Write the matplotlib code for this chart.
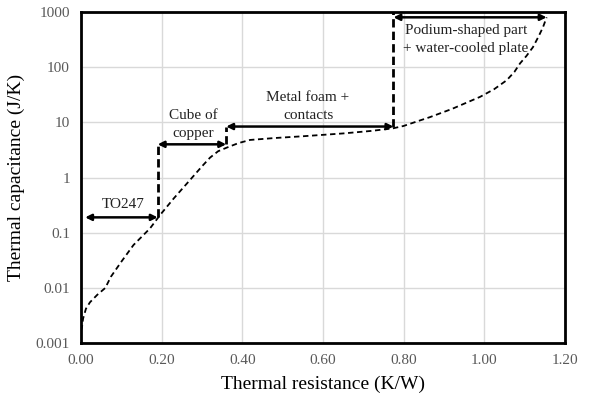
import matplotlib
matplotlib.use("Agg")
import matplotlib.pyplot as plt

plt.rcParams['font.family'] = ['Liberation Serif', 'DejaVu Serif']

# Cumulative structure function
r_curve = [0.0, 0.002, 0.005, 0.012, 0.022, 0.04, 0.06, 0.074, 0.10, 0.13, 0.171,
           0.196, 0.23, 0.27, 0.30, 0.32, 0.34, 0.362, 0.39, 0.419, 0.48, 0.55,
           0.65, 0.72, 0.774, 0.80, 0.83, 0.865, 0.92, 0.99, 1.025, 1.056, 1.075,
           1.089, 1.105, 1.121, 1.135, 1.146, 1.155]
c_curve = [0.0017, 0.0019, 0.0028, 0.0042, 0.0055, 0.0075, 0.010, 0.016, 0.03, 0.06, 0.12,
           0.21, 0.42, 0.9, 1.6, 2.3, 3.0, 3.5, 4.2, 4.8, 5.2, 5.6,
           6.3, 7.0, 7.8, 8.6, 10.2, 12.4, 17.5, 29, 40, 58, 82,
           117, 160, 230, 360, 530, 800]

# Steps marking each layer (thick dashed verticals)
r_steps = [0.19, 0.19, 0.36, 0.36, 0.775, 0.775]
c_steps = [0.19, 4.0, 4.0, 8.4, 8.4, 1000]

# Layer annotations: start, end, level, label, label position
arrow_start = [0.01, 0.19, 0.36, 0.775]
arrow_end = [0.19, 0.36, 0.775, 1.155]
arrow_level = [0.19, 4.0, 8.4, 800]
labels = ["TO247", "Cube of\ncopper", "Metal foam +\ncontacts",
          "Podium-shaped part\n+ water-cooled plate"]
label_x = [0.104, 0.278, 0.563, 0.955]
label_y = [0.32, 9.1, 19.5, 320]

fig, ax = plt.subplots(figsize=(5.92, 3.99), dpi=100)
fig.subplots_adjust(left=0.137, right=0.954, bottom=0.140, top=0.970)

ax.plot(r_curve, c_curve, color='black', linestyle=(0, (3, 2)), linewidth=1.3)

for i in range(0, len(r_steps), 2):
    ax.plot(r_steps[i:i + 2], c_steps[i:i + 2], color='black',
            linestyle=(0, (3, 1.5)), linewidth=2)

for x0, x1, y, lab, lx, ly in zip(arrow_start, arrow_end, arrow_level,
                                   labels, label_x, label_y):
    ax.annotate("", xy=(x1, y), xytext=(x0, y),
                arrowprops=dict(arrowstyle='<|-|>', color='black', lw=1.8,
                                mutation_scale=9, shrinkA=0, shrinkB=0))
    ax.text(lx, ly, lab, ha='center', va='center', fontsize=11,
            linespacing=1.5, color='#222222')

ax.set_yscale('log')
ax.set_xlim(0, 1.2)
ax.set_ylim(0.001, 1000)
ax.set_xticks([0, 0.2, 0.4, 0.6, 0.8, 1.0, 1.2])
ax.set_xticklabels(["0.00", "0.20", "0.40", "0.60", "0.80", "1.00", "1.20"])
ax.set_yticks([0.001, 0.01, 0.1, 1, 10, 100, 1000])
ax.set_yticklabels(["0.001", "0.01", "0.1", "1", "10", "100", "1000"])
ax.minorticks_off()
ax.tick_params(length=0, labelsize=11, labelcolor='#595959', pad=8)
ax.grid(True, color='#d9d9d9', linewidth=1)
ax.set_axisbelow(True)
for s in ax.spines.values():
    s.set_linewidth(2)
    s.set_color('black')

ax.set_xlabel("Thermal resistance (K/W)", fontsize=14, labelpad=6)
ax.set_ylabel("Thermal capacitance (J/K)", fontsize=14, labelpad=8)

fig.savefig("out.png", dpi=100)
